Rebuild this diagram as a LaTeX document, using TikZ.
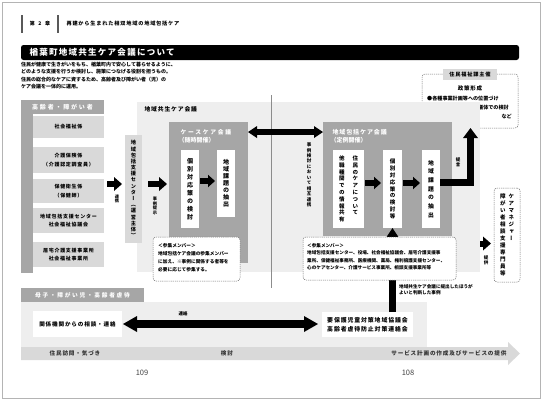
\documentclass[tikz,border=0pt]{standalone}
\usepackage{fontspec}
\setmainfont{Noto Sans CJK JP}
\newfontfamily\jA{Noto Sans CJK JP}
\newfontfamily\jB{Noto Sans CJK JP}[LetterSpace=15]
\newfontfamily\jC{Noto Sans CJK JP}[LetterSpace=30]
\newfontfamily\jV{Noto Sans CJK JP}[RawFeature=+vert]
\usetikzlibrary{arrows.meta}
\definecolor{gM}{HTML}{A6A6A6}
\definecolor{gL}{HTML}{D9D9D9}
\definecolor{gX}{HTML}{EEEEEE}
\definecolor{gF}{HTML}{B4B4B4}
\newcommand\fsz[2]{\fontsize{#1}{#2}\selectfont}
\makeatletter
\def\vt@end{\vt@end}
\newcommand\vt[2][1.2]{\vtop{\baselineskip=#1em\lineskiplimit=-\maxdimen\lineskip=0pt\vt@a#2\vt@end}}
\def\vt@a#1{\ifx\vt@end#1\else\hbox to 1em{\hss#1\hss}\expandafter\vt@a\fi}
\makeatother
\newcommand\mybox[7]{\node[inner sep=0pt,outer sep=0pt,anchor=north west,minimum width={(#5-#3)*1pt},minimum height={(#6-#4)*1pt},#1] (#2) at (#3,#4) {#7};}
\begin{document}
\begin{tikzpicture}[x=1pt,y=-1pt,
  dsh/.style={draw=black!55,dash pattern=on 1.2pt off 0.9pt,line width=0.5pt,rounded corners=3pt,fill=white},
  it/.style={fill=gL,align=center,font=\jB\bfseries\fsz{5}{8.5}},
  wb/.style={fill=white,font=\jV\bfseries\fsz{6}{6}},
  vlab/.style={font=\jV\bfseries\fsz{4.2}{4.2},inner sep=0pt},
  aA/.style={line width=6pt,-{Triangle[length=8pt,width=14pt,line width=0pt]}},
  aB/.style={line width=5.5pt,-{Triangle[length=7pt,width=12.5pt,line width=0pt]}},
  aD/.style={line width=5.5pt,{Triangle[length=9pt,width=12pt,line width=0pt]}-{Triangle[length=9pt,width=12pt,line width=0pt]}},
  aE/.style={line width=7pt,line join=miter,-{Triangle[length=10pt,width=15pt,line width=0pt]}},
  aU/.style={line width=7pt,-{Triangle[length=9pt,width=12pt,line width=0pt]}},
  aG/.style={line width=8pt,{Triangle[length=14pt,width=16pt,line width=0pt]}-{Triangle[length=14pt,width=16pt,line width=0pt]}},
  wt/.style={text=white}
]
\useasboundingbox (0,0) rectangle (542,400);
\draw[gF,line width=0.8pt] (2,2) rectangle (540,398);
% level coordinates
\coordinate (h184) at (0,184);
\coordinate (h181) at (0,181);
\coordinate (h183) at (0,183);
\coordinate (h132) at (0,132);
\coordinate (h182) at (0,182);
\coordinate (h243) at (0,243.5);
\coordinate (h324) at (0,324);
\coordinate (v470) at (470.5,0);
% header
\draw[black!65,line width=1.3pt] (22,15) -- (22,33);
\draw[black!65,line width=1.3pt] (58,15) -- (58,33);
\node[font=\jA\bfseries\fsz{5}{5}] (chap) at (40,24) {第\hspace{3.5pt}2\hspace{3.5pt}章};
\node[anchor=west,font=\jB\bfseries\fsz{5.2}{5.2}] (chapt) at (63,24) {再建から生まれた相双地域の地域包括ケア};
% title
\mybox{fill=black,rounded corners=2.5pt}{tbar}{21}{45}{519}{60}{}
\node[anchor=west,wt,font=\jB\bfseries\fsz{8.5}{8.5}] (title) at (26,52.5) {楢葉町地域共生ケア会議について};
\node[anchor=north west,align=left,inner sep=0pt,font=\jA\bfseries\fsz{5}{7.5}] (para) at (21,61.5) {住民が健康で生きがいをもち、楢葉町内で安心して暮らせるように、\\どのような支援を行うか検討し、施策につなげる役割を担うもの。\\住民の総合的なケアに資するため、高齢者及び障がい者（児）の\\ケア会議を一体的に運用。};
% policy box
\mybox{dsh}{jf}{422}{74}{518}{128}{}
\mybox{fill=gL,font=\jB\bfseries\fsz{5.2}{5.2}}{jfl}{443}{69}{497}{80}{住民福祉課主催}
\node[font=\jB\bfseries\fsz{5.5}{5.5}] (jf1) at (470,88) {政策形成};
\node[anchor=west,inner sep=0pt,font=\jA\bfseries\fsz{5.1}{5.1}] (jf2) at (427,99) {●各種事業計画等への位置づけ};
\node[anchor=west,inner sep=0pt,font=\jA\bfseries\fsz{5.1}{5.1}] (jf3) at (427,108) {●住民・他団体との協議体での検討};
\node[anchor=east,inner sep=0pt,font=\jA\bfseries\fsz{5.1}{5.1}] (jf4) at (512,116) {など};
% left column
\mybox{fill=gM}{colL}{21}{100}{33}{273}{}
\mybox{fill=gM,wt,font=\jC\bfseries\fsz{6}{6}}{colH}{21}{100}{104}{113.5}{高齢者・障がい者}
\mybox{it}{i1}{33}{116}{104}{138}{社会福祉係}
\mybox{it}{i2}{33}{147}{104}{173}{介護保険係\\（介護認定調査員）}
\mybox{it}{i3}{33}{179}{104}{203}{保健衛生係\\（保健師）}
\mybox{it}{i4}{33}{208}{104}{233}{地域包括支援センター\\社会福祉協議会}
\mybox{it}{i5}{33}{242}{104}{267}{居宅介護支援事業所\\社会福祉事業所}
% big light box
\mybox{fill=gX}{kyo}{137}{102}{480}{272}{}
\node[anchor=west,font=\jB\bfseries\fsz{5.8}{5.8}] (kyot) at (141,109.5) {地域共生ケア会議};
\draw[black!45,line width=0.6pt] (271,95) -- (271,288);
% vertical center box
\mybox{fill=gL,font=\jV\bfseries\fsz{5.2}{5.2}}{vbox}{125}{135}{142}{243}{\vt[1.19]{地域包括支援センター（運営主体）}}
% case meeting
\mybox{fill=gM}{cbox}{169}{122}{248}{263}{}
\node[anchor=west,wt,font=\jC\bfseries\fsz{5.8}{5.8}] (ct1) at (177,132) {ケースケア会議};
\node[anchor=west,wt,font=\jA\bfseries\fsz{6}{6}] (ct2) at (175,140.5) {（随時開催）};
\mybox{wb}{c1}{181}{150}{199}{228}{\vt[1.33]{個別対応策の検討}}
\mybox{wb}{c2}{217}{150}{235}{217}{\vt[1.17]{地域課題の抽出}}
% regular meeting
\mybox{fill=gM}{rbox}{323}{122}{452}{236}{}
\node[anchor=west,wt,font=\jB\bfseries\fsz{6}{6}] (rt1) at (329,132) {地域包括ケア会議};
\node[anchor=west,wt,font=\jA\bfseries\fsz{6}{6}] (rt2) at (327,140.5) {（定例開催）};
\mybox{wb,font=\jV\bfseries\fsz{5.5}{5.5}}{r1}{333}{150}{364}{228}{\vt[1.24]{他職種間での情報共有}\hspace{8pt}\vt[1.24]{住民のケアについて}}
\mybox{wb,font=\jV\bfseries\fsz{5.5}{5.5}}{r2}{383}{150}{402}{228}{\vt[1.24]{個別対応策の検討等}}
\mybox{wb,font=\jV\bfseries\fsz{5.8}{5.8}}{r3}{422}{150}{440}{228}{\vt[1.5]{地域課題の抽出}}
% care manager box
\mybox{dsh,font=\jV\bfseries\fsz{5.5}{5.5}}{cm}{494}{188}{520}{282}{\vt[1.27]{障がい者相談支援専門員等}\hspace{3pt}\vt[1.27]{ケアマネジャー}}
% arrows upper
\draw[aA,shorten <=3pt,shorten >=3pt] (i3.east |- h184) -- (vbox.west |- h184);
\draw[aA,shorten <=6pt,shorten >=2pt] (vbox.east |- h184) -- (cbox.west |- h184);
\draw[aB,shorten <=1pt,shorten >=2pt] (c1.east |- h181) -- (c2.west |- h181);
\draw[aB,shorten <=1pt,shorten >=2pt] (r1.east |- h183) -- (r2.west |- h183);
\draw[aB,shorten <=1pt,shorten >=2pt] (r2.east |- h183) -- (r3.west |- h183);
\draw[aD] (cbox.east |- h132) -- (rbox.west |- h132);
\draw[aE] (r3.east |- h182) -| (v470 |- jf.south);
\draw[aA,shorten >=3pt] (kyo.east |- h243) -- (cm.west |- h243);
\node[vlab] (l1) at (117,199) {\vt[1.1]{連携}};
\node[vlab] (l2) at (155,206) {\vt[1.1]{事例提示}};
\node[vlab,font=\jV\bfseries\fsz{4.5}{4.5}] (l3) at (309,175) {\vt[1.22]{事例検討において相互連携}};
\node[vlab,font=\jV\bfseries\fsz{4.5}{4.5}] (l4) at (458,162) {\vt[1.1]{提言}};
\node[vlab,font=\jV\bfseries\fsz{4.5}{4.5}] (l5) at (486,260) {\vt[1.1]{提供}};
% lower section
\mybox{fill=gX}{boshi}{21}{302}{427}{347}{}
\mybox{fill=gM,wt,font=\jC\bfseries\fsz{5.7}{5.7}}{bh}{21}{288}{144}{302}{母子・障がい児・高齢者虐待}
\mybox{fill=white,font=\jB\bfseries\fsz{5.6}{5.6}}{kk}{33}{311}{122}{337}{関係機関からの相談・連絡}
\mybox{fill=white,align=center,font=\jB\bfseries\fsz{5.9}{9}}{yo}{322}{312}{413}{337}{要保護児童対策地域協議会\\高齢者虐待防止対策連絡会}
\draw[aU] (r2.south |- yo.north) -- (r2.south);
\node[anchor=north west,align=left,inner sep=0pt,font=\jA\bfseries\fsz{4.6}{6.2}] (tl) at (399,284) {地域共生ケア会議に提出したほうが\\よいと判断した事例};
% member boxes
\mybox{dsh}{mL}{153}{237}{240}{281}{}
\node[anchor=north west,align=left,inner sep=0pt,font=\jA\bfseries\fsz{4.7}{8}] (mLt) at (158,243) {＜参集メンバー＞\\地域包括ケア会議の参集メンバー\\に加え、※事例に関係する者等を\\必要に応じて参集する。};
\mybox{dsh}{mR}{303}{237}{456}{280}{}
\node[anchor=north west,align=left,inner sep=0pt,font=\jA\bfseries\fsz{4.6}{7.6}] (mRt) at (307,243) {＜参集メンバー＞\\地域包括支援センター、役場、社会福祉協議会、居宅介護支援事\\業所、保健福祉事務所、医療機関、薬局、権利擁護支援センター、\\心のケアセンター、介護サービス事業所、相談支援事業所等};
% big double arrow
\draw[aG,shorten <=1pt,shorten >=4pt] (kk.east |- h324) -- (yo.west |- h324);
\node[font=\jA\bfseries\fsz{4.5}{4.5}] (lr) at (183,314) {連絡};
% bottom band
\fill[gL] (21,347) -- (508,347) -- (508,342) -- (520,353.5) -- (508,365) -- (508,360) -- (21,360) -- cycle;
\node[font=\jB\bfseries\fsz{5.6}{5.6},text=black!80] (b1) at (75,353.5) {住民訪問・気づき};
\node[font=\jB\bfseries\fsz{5.6}{5.6},text=black!80] (b2) at (227,353.5) {検討};
\node[anchor=east,font=\jB\bfseries\fsz{5.6}{5.6},text=black!80] (b3) at (510,353.5) {サービス計画の作成及びサービスの提供};
% page numbers
\node[font=\jA\fsz{7.5}{7.5},text=black!75] (p1) at (142,373) {109};
\node[font=\jA\fsz{7.5}{7.5},text=black!75] (p2) at (408,373) {108};
\end{tikzpicture}
\end{document}
